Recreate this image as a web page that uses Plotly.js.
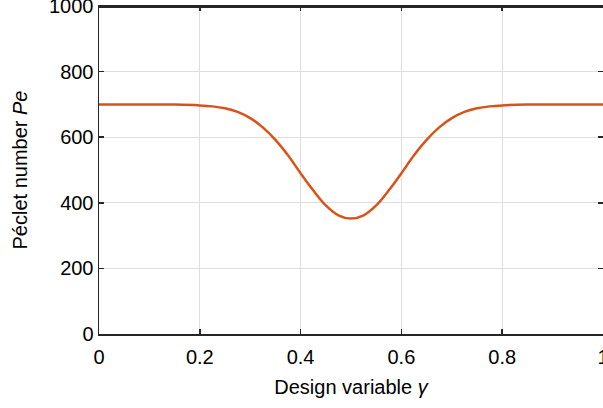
<!DOCTYPE html>
<html>
<head>
<meta charset="utf-8">
<script src="https://cdn.plot.ly/plotly-3.0.1.min.js"></script>
<style>html,body{margin:0;padding:0;background:#fff;}#chart{width:603px;height:408px;}</style>
</head>
<body>
<div id="chart"></div>
<script>
// Design variable gamma
const gammaValues = [0, 0.05, 0.1, 0.15, 0.2, 0.225, 0.25, 0.275, 0.3, 0.325, 0.35, 0.375, 0.4, 0.425, 0.45, 0.475, 0.5,
  0.525, 0.55, 0.575, 0.6, 0.625, 0.65, 0.675, 0.7, 0.725, 0.75, 0.775, 0.8, 0.85, 0.9, 0.95, 1.0];
// Péclet number Pe
const pecletValues = [700, 700, 700, 699.5, 697, 694, 688, 677, 658, 630, 592, 545, 490, 438, 392, 362, 352,
  362, 392, 438, 490, 545, 592, 630, 658, 677, 688, 694, 697, 699.5, 700, 700, 700];
const xTickVals = [0, 0.2, 0.4, 0.6, 0.8, 1];
const xTickText = ["0", "0.2", "0.4", "0.6", "0.8", "1"];
const yTickVals = [0, 200, 400, 600, 800, 1000];
const yTickText = ["0", "200", "400", "600", "800", "1000"];

const fam = "Liberation Sans, Arial, sans-serif";

Plotly.newPlot("chart", [{
  x: gammaValues,
  y: pecletValues,
  type: "scatter",
  mode: "lines",
  line: {color: "#D95319", width: 2.5, shape: "spline", smoothing: 1},
  hoverinfo: "skip"
}], {
  width: 603, height: 408,
  margin: {l: 99, r: 0, t: 6, b: 74, pad: 0},
  paper_bgcolor: "#fff", plot_bgcolor: "#fff",
  showlegend: false,
  font: {family: fam, size: 20, color: "#000"},
  shapes: [{type: "rect", xref: "paper", yref: "paper", x0: 0, x1: 1.01, y0: 0.994, y1: 1.001,
            fillcolor: "#262626", line: {width: 0}, layer: "above"}],
  xaxis: {
    range: [0, 1], tickvals: xTickVals, ticktext: xTickText,
    showgrid: true, gridcolor: "#dedede", gridwidth: 1,
    zeroline: false, showline: true, linecolor: "#262626", linewidth: 1.5, mirror: "allticks",
    ticks: "inside", ticklen: 5, tickcolor: "#262626", tickwidth: 1.5,
    ticklabeloverflow: "allow", ticklabelstandoff: 4,
    tickfont: {family: fam, size: 20, color: "#000"},
    title: {text: "Design variable <i>γ</i>", font: {family: fam, size: 20, color: "#000"}, standoff: 13}
  },
  yaxis: {
    range: [0, 1000], tickvals: yTickVals, ticktext: yTickText,
    showgrid: true, gridcolor: "#dedede", gridwidth: 1,
    zeroline: false, showline: true, linecolor: "#262626", linewidth: 1.5, mirror: "allticks",
    ticks: "inside", ticklen: 5, tickcolor: "#262626", tickwidth: 1.5,
    ticklabeloverflow: "allow",
    tickfont: {family: fam, size: 20, color: "#000"},
    title: {text: "Péclet number <i>Pe</i>", font: {family: fam, size: 20, color: "#000"}, standoff: 16}
  }
}, {staticPlot: true, displayModeBar: false});
</script>
</body>
</html>
